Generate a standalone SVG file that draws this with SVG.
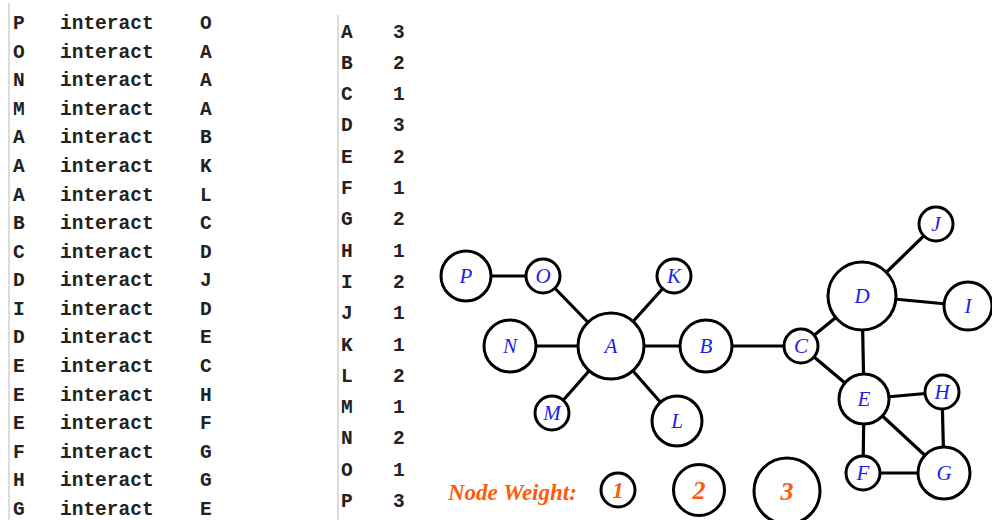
<svg xmlns="http://www.w3.org/2000/svg" width="992" height="520" viewBox="0 0 992 520">
<style>
.mono{font-family:"Liberation Mono","Courier New",monospace;font-size:19.5px;font-weight:bold;fill:#222;}
.edge{stroke:#000;stroke-width:3.2;fill:none;}
.node circle{fill:#fff;stroke:#000;stroke-width:3;}
.node text{font-family:"Liberation Serif","Times New Roman",serif;font-style:italic;font-size:21px;fill:#1e1ee6;text-anchor:middle;}
.leg{font-family:"Liberation Serif","Times New Roman",serif;font-style:italic;font-weight:bold;fill:#ff5a0a;}
.sep{stroke:#dcdcdc;stroke-width:2;}
</style>
<rect width="992" height="520" fill="#fff"/>
<g id="table-interactions">
<line class="sep" x1="9" y1="3" x2="9" y2="520"/>
<g class="mono">
<text x="13" y="29">P</text><text x="60" y="29">interact</text><text x="200" y="29">O</text>
<text x="13" y="57.5">O</text><text x="60" y="57.5">interact</text><text x="200" y="57.5">A</text>
<text x="13" y="86">N</text><text x="60" y="86">interact</text><text x="200" y="86">A</text>
<text x="13" y="114.5">M</text><text x="60" y="114.5">interact</text><text x="200" y="114.5">A</text>
<text x="13" y="143">A</text><text x="60" y="143">interact</text><text x="200" y="143">B</text>
<text x="13" y="172">A</text><text x="60" y="172">interact</text><text x="200" y="172">K</text>
<text x="13" y="200.5">A</text><text x="60" y="200.5">interact</text><text x="200" y="200.5">L</text>
<text x="13" y="229">B</text><text x="60" y="229">interact</text><text x="200" y="229">C</text>
<text x="13" y="257.5">C</text><text x="60" y="257.5">interact</text><text x="200" y="257.5">D</text>
<text x="13" y="286">D</text><text x="60" y="286">interact</text><text x="200" y="286">J</text>
<text x="13" y="314.5">I</text><text x="60" y="314.5">interact</text><text x="200" y="314.5">D</text>
<text x="13" y="343">D</text><text x="60" y="343">interact</text><text x="200" y="343">E</text>
<text x="13" y="372">E</text><text x="60" y="372">interact</text><text x="200" y="372">C</text>
<text x="13" y="400.5">E</text><text x="60" y="400.5">interact</text><text x="200" y="400.5">H</text>
<text x="13" y="429">E</text><text x="60" y="429">interact</text><text x="200" y="429">F</text>
<text x="13" y="457.5">F</text><text x="60" y="457.5">interact</text><text x="200" y="457.5">G</text>
<text x="13" y="486">H</text><text x="60" y="486">interact</text><text x="200" y="486">G</text>
<text x="13" y="514.5">G</text><text x="60" y="514.5">interact</text><text x="200" y="514.5">E</text>
</g>
</g>
<g id="table-weights">
<line class="sep" x1="338" y1="15" x2="338" y2="520"/>
<g class="mono">
<text x="341" y="37.5">A</text><text x="393" y="37.5">3</text>
<text x="341" y="68.8">B</text><text x="393" y="68.8">2</text>
<text x="341" y="100.1">C</text><text x="393" y="100.1">1</text>
<text x="341" y="131.4">D</text><text x="393" y="131.4">3</text>
<text x="341" y="162.7">E</text><text x="393" y="162.7">2</text>
<text x="341" y="194">F</text><text x="393" y="194">1</text>
<text x="341" y="225.3">G</text><text x="393" y="225.3">2</text>
<text x="341" y="256.6">H</text><text x="393" y="256.6">1</text>
<text x="341" y="287.9">I</text><text x="393" y="287.9">2</text>
<text x="341" y="319.2">J</text><text x="393" y="319.2">1</text>
<text x="341" y="350.5">K</text><text x="393" y="350.5">1</text>
<text x="341" y="381.8">L</text><text x="393" y="381.8">2</text>
<text x="341" y="413.1">M</text><text x="393" y="413.1">1</text>
<text x="341" y="444.4">N</text><text x="393" y="444.4">2</text>
<text x="341" y="475.7">O</text><text x="393" y="475.7">1</text>
<text x="341" y="507">P</text><text x="393" y="507">3</text>
</g>
</g>
<g id="connectors" class="edge">
<line x1="466" y1="276" x2="543" y2="276"/>
<line x1="543" y1="276" x2="611" y2="346"/>
<line x1="510" y1="346" x2="611" y2="346"/>
<line x1="552" y1="413" x2="611" y2="346"/>
<line x1="611" y1="346" x2="706" y2="346"/>
<line x1="611" y1="346" x2="674" y2="276"/>
<line x1="611" y1="346" x2="677" y2="421"/>
<line x1="706" y1="346" x2="801" y2="346"/>
<line x1="801" y1="346" x2="862" y2="296"/>
<line x1="862" y1="296" x2="936" y2="224"/>
<line x1="968" y1="306" x2="862" y2="296"/>
<line x1="862" y1="296" x2="864" y2="399"/>
<line x1="864" y1="399" x2="801" y2="346"/>
<line x1="864" y1="399" x2="942" y2="392"/>
<line x1="864" y1="399" x2="863" y2="473"/>
<line x1="863" y1="473" x2="944" y2="473"/>
<line x1="942" y1="392" x2="944" y2="473"/>
<line x1="944" y1="473" x2="864" y2="399"/>
</g>
<g id="node-P" class="node"><circle cx="466" cy="276" r="25"/><text x="466" y="283">P</text></g>
<g id="node-O" class="node"><circle cx="543" cy="276" r="17"/><text x="543" y="283">O</text></g>
<g id="node-K" class="node"><circle cx="674" cy="276" r="17"/><text x="674" y="283">K</text></g>
<g id="node-A" class="node"><circle cx="611" cy="346" r="33"/><text x="611" y="353">A</text></g>
<g id="node-N" class="node"><circle cx="510" cy="346" r="26"/><text x="510" y="353">N</text></g>
<g id="node-B" class="node"><circle cx="706" cy="346" r="26"/><text x="706" y="353">B</text></g>
<g id="node-M" class="node"><circle cx="552" cy="413" r="17"/><text x="552" y="420">M</text></g>
<g id="node-L" class="node"><circle cx="677" cy="421" r="25"/><text x="677" y="428">L</text></g>
<g id="node-C" class="node"><circle cx="801" cy="346" r="17"/><text x="801" y="353">C</text></g>
<g id="node-D" class="node"><circle cx="862" cy="296" r="34"/><text x="862" y="303">D</text></g>
<g id="node-J" class="node"><circle cx="936" cy="224" r="17"/><text x="936" y="231">J</text></g>
<g id="node-I" class="node"><circle cx="968" cy="306" r="24"/><text x="968" y="313">I</text></g>
<g id="node-E" class="node"><circle cx="864" cy="399" r="25"/><text x="864" y="406">E</text></g>
<g id="node-H" class="node"><circle cx="942" cy="392" r="17"/><text x="942" y="399">H</text></g>
<g id="node-F" class="node"><circle cx="863" cy="473" r="17"/><text x="863" y="480">F</text></g>
<g id="node-G" class="node"><circle cx="944" cy="473" r="26"/><text x="944" y="480">G</text></g>
<g id="legend">
<text class="leg" x="448" y="500" font-size="23">Node Weight:</text>
<circle cx="618" cy="490" r="17" fill="#fff" stroke="#000" stroke-width="3"/>
<text class="leg" x="618" y="498" font-size="23" text-anchor="middle">1</text>
<circle cx="699" cy="490" r="25.5" fill="#fff" stroke="#000" stroke-width="3"/>
<text class="leg" x="699" y="499" font-size="26" text-anchor="middle">2</text>
<circle cx="787" cy="491" r="33" fill="#fff" stroke="#000" stroke-width="3"/>
<text class="leg" x="787" y="500" font-size="26" text-anchor="middle">3</text>
</g>
</svg>
